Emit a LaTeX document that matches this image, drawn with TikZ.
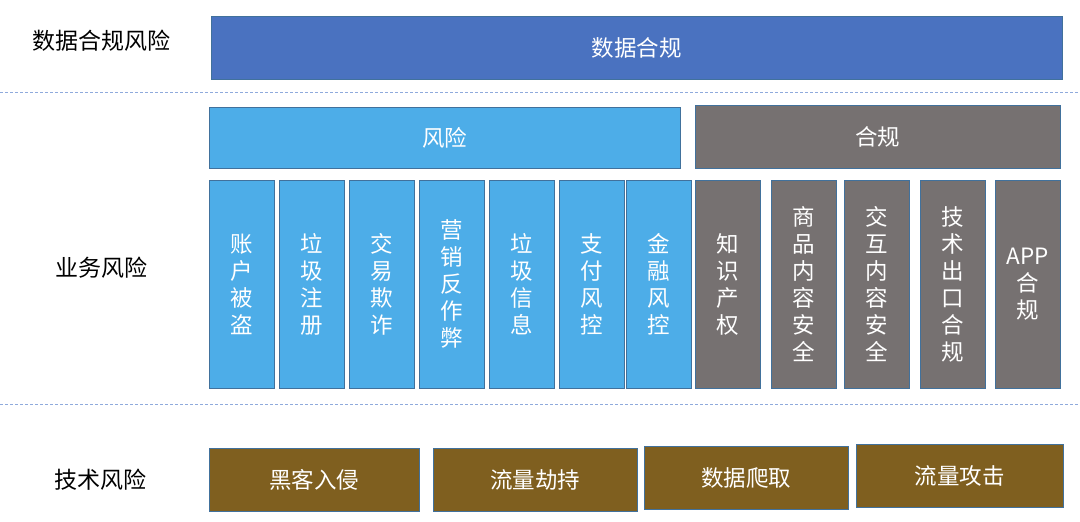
\documentclass[tikz,border=0pt]{standalone}
\usepackage{fontspec}
\setmainfont{Noto Sans CJK SC}
\definecolor{rdblue}{HTML}{4A72C0}
\definecolor{rlblue}{HTML}{4DADE8}
\definecolor{rgrey}{HTML}{767171}
\definecolor{rbrown}{HTML}{7F5F1F}
\definecolor{redge}{HTML}{41719C}
\definecolor{rdash}{HTML}{8FAADC}

\begin{document}
\begin{tikzpicture}[x=1pt,y=-1pt,
  box/.style={draw=redge,line width=0.6pt,text=white,inner sep=0pt,align=center,font=\fontsize{22.5}{27}\selectfont},
  col/.style={box,minimum width=65pt,minimum height=208pt},
  lbl/.style={font=\fontsize{23}{27}\selectfont}]
  \useasboundingbox (0,0) rectangle (1080,522);
  % row labels
  \node[lbl] (ldata) at (101,41) {数据合规风险};
  \node[lbl] (lbiz) at (101,268) {业务风险};
  \node[lbl] (ltech) at (100,480) {技术风险};
  % separators
  \coordinate (s1a) at (0,92);
  \coordinate (s1b) at (1080,92);
  \coordinate (s2a) at (0,404);
  \coordinate (s2b) at (1080,404);
  \draw[rdash,line width=0.6pt,dash pattern=on 3pt off 2pt] (s1a) -- (s1b);
  \draw[rdash,line width=0.6pt,dash pattern=on 3pt off 2pt] (s2a) -- (s2b);
  % data compliance
  \node[box,fill=rdblue,minimum width=851pt,minimum height=63pt] (data) at (636.5,47.5) {数据合规};
  % business
  \node[box,fill=rlblue,minimum width=471pt,minimum height=61pt] (risk) at (444.5,137.5) {风险};
  \node[box,fill=rgrey,minimum width=365pt,minimum height=63pt] (comp) at (877.5,136.5) {合规};
  \node[col,fill=rlblue] (r1) at (241.5,284) {账\\户\\被\\盗};
  \node[col,fill=rlblue] (r2) at (311.5,284) {垃\\圾\\注\\册};
  \node[col,fill=rlblue] (r3) at (381.5,284) {交\\易\\欺\\诈};
  \node[col,fill=rlblue] (r4) at (451.5,284) {营\\销\\反\\作\\弊};
  \node[col,fill=rlblue] (r5) at (522,284) {垃\\圾\\信\\息};
  \node[col,fill=rlblue] (r6) at (591.5,284) {支\\付\\风\\控};
  \node[col,fill=rlblue] (r7) at (658.5,284) {金\\融\\风\\控};
  \node[col,fill=rgrey] (c1) at (728,284) {知\\识\\产\\权};
  \node[col,fill=rgrey] (c2) at (803.5,284) {商\\品\\内\\容\\安\\全};
  \node[col,fill=rgrey] (c3) at (876.5,284) {交\\互\\内\\容\\安\\全};
  \node[col,fill=rgrey] (c4) at (952.5,284) {技\\术\\出\\口\\合\\规};
  \node[col,fill=rgrey] (c5) at (1028,284) {APP\\合\\规};
  % technical
  \node[box,fill=rbrown,minimum width=210pt,minimum height=63pt] (t1) at (314,479.5) {黑客入侵};
  \node[box,fill=rbrown,minimum width=204pt,minimum height=63pt] (t2) at (535,479.5) {流量劫持};
  \node[box,fill=rbrown,minimum width=204pt,minimum height=63pt] (t3) at (746,477.5) {数据爬取};
  \node[box,fill=rbrown,minimum width=207pt,minimum height=63pt] (t4) at (959.5,475.5) {流量攻击};
\end{tikzpicture}
\end{document}
